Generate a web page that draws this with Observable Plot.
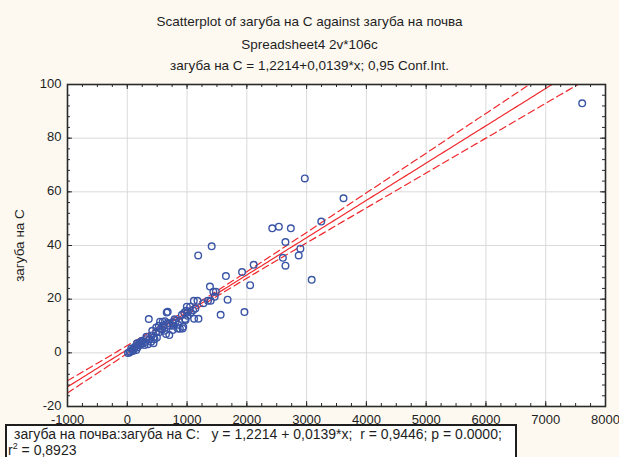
<!DOCTYPE html>
<html>
<head>
<meta charset="utf-8">
<script src="https://cdn.jsdelivr.net/npm/d3@7"></script>
<script src="https://cdn.jsdelivr.net/npm/@observablehq/plot@0.6"></script>
<style>
  html, body { margin: 0; padding: 0; background: #fdf9f1; }
  #wrap { position: relative; width: 619px; height: 457px; overflow: hidden; font-family: "Liberation Sans", Arial, sans-serif; color: #1e1e1e; }
  .t { position: absolute; left: 0; width: 619px; text-align: center; font-size: 13.5px; line-height: 16px; }
  #box { position: absolute; left: 5px; top: 424px; width: 508px; height: 40px; background: #fff; border: 2px solid #1e1e1e; font-size: 14px; line-height: 16px; }
  #box .l1 { margin-left: 7px; white-space: pre; }
  #box .l2 { margin-left: 1px; }
  #box sup { font-size: 9px; line-height: 0; }
  #chart { position: absolute; left: 0; top: 0; }
</style>
</head>
<body>
<div id="wrap">
  <div id="chart"></div>
  <div class="t" style="top:14px">Scatterplot of загуба на С against загуба на почва</div>
  <div class="t" style="top:37px">Spreadsheet4 2v*106c</div>
  <div class="t" style="top:58px">загуба на С = 1,2214+0,0139*x; 0,95 Conf.Int.</div>
  <div id="box"><div class="l1">загуба на почва:загуба на С:   y = 1,2214 + 0,0139*x;  r = 0,9446; p = 0.0000;</div><div class="l2">r<sup>2</sup> = 0,8923</div></div>
</div>
<script>
// Observed points: загуба на почва (x) and загуба на С (y)
const xVals = [7610, 2970, 3617, 3245, 2425, 2536, 2736, 2646, 2896, 2868, 2603, 2646, 3085, 2115, 1920, 2055,
  1412, 1186, 1650, 1383, 1440, 1482, 1462, 1678, 1562, 1960, 1274, 1350, 1395, 1113, 1175, 1051, 996, 985, 1013, 1101,
  952, 914, 1118, 1191, 975, 676, 703, 758, 814, 880, 935, 659, 360, 548, 593, 631, 676, 714, 769, 842, 925, 868, 968,
  1008, 1063, 581, 620, 537, 482, 648, 703, 439, 372, 316, 249, 205, 162, 216, 289, 345, 399, 439, 66, 122, 95, 38, 12,
  150, 456, 496, 529, 484, 418, 80, 110, 140, 180, 260, 300, 230, 50, 170, 320, 560, 600, 790, 850, 1140, 760, 410];
const yVals = [93, 65, 57.6, 48.9, 46.4, 47, 46.4, 41.3, 38.8, 36.3, 35.4, 32.5, 27.2, 32.8, 30.1, 25.2,
  39.7, 36.3, 28.6, 24.7, 22.8, 22.8, 20.9, 19.8, 14.2, 15.2, 18.5, 19.4, 19.4, 19.4, 19.4, 17.2, 17.2, 15.7, 15.3, 15.9,
  14.9, 14.2, 12.7, 12.7, 12.2, 15.3, 10.9, 11.3, 11.9, 9, 9.7, 15, 12.6, 11.6, 11.6, 11.8, 11.1, 10.1, 10.1, 9.1, 9.1, 11.6, 12.6,
  13.8, 15, 8.6, 8.2, 7.8, 7.6, 7, 6.6, 5.7, 5.1, 5.1, 4.5, 3.8, 3.6, 2.9, 2.9, 3.2, 4.1, 3.6, 1.6, 2, 0.7, 0.1, -0.1,
  1.1, 5.1, 5.7, 10.1, 9.4, 8.2, 1, 1.5, 2.5, 3, 3.5, 4, 4.2, 0.5, 2, 6, 9, 10, 12.5, 10.5, 16.5, 8.5, 6.5];

// Regression (from the chart's caption) and confidence-band statistics
const intercept = 1.2214, slope = 0.0139, rSquared = 0.8923;
const nObs = 106, tCrit = 1.983, residSD = 5.0, meanX = 1200;

// Axis ticks
const xTicks = [-1000, 0, 1000, 2000, 3000, 4000, 5000, 6000, 7000, 8000];
const yTicks = [-20, 0, 20, 40, 60, 80, 100];
const xGrid = [0, 1000, 2000, 3000, 4000, 5000, 6000, 7000];
const yGrid = [0, 20, 40, 60, 80];
const xMinor = d3.range(-1000, 8001, 250);
const yMinor = d3.range(-20, 101, 4);

const points = xVals.map((x, i) => ({x, y: yVals[i]}));
const Sxx = rSquared / (1 - rSquared) * (nObs - 2) * residSD * residSD / (slope * slope);
const fitX = d3.range(-1000, 8001, 50);
const fit = fitX.map(x => {
  const yhat = intercept + slope * x;
  const hw = tCrit * residSD * Math.sqrt(1 / nObs + (x - meanX) ** 2 / Sxx);
  return {x, yhat, lo: yhat - hw, hi: yhat + hw};
});

const W = 619, H = 457, mL = 67, mR = 14, mT = 84, mB = 51;
const ph = H - mT - mB, pw = W - mL - mR;
const red = "#f0282d";
const blue = "#3b55a6";
const ink = "#2a2a2a";

const chart = Plot.plot({
  width: W, height: H,
  marginLeft: mL, marginRight: mR, marginTop: mT, marginBottom: mB,
  style: {background: "transparent", fontFamily: "'Liberation Sans', Arial, sans-serif", fontSize: "13px", color: "#1e1e1e"},
  x: {domain: [-1000, 8000]},
  y: {domain: [-20, 100]},
  marks: [
    Plot.frame({fill: "white", stroke: null}),
    Plot.ruleX(xGrid, {x: d => d, stroke: "#dadada", strokeWidth: 1}),
    Plot.ruleY(yGrid, {y: d => d, stroke: "#dadada", strokeWidth: 1}),
    Plot.axisX(xTicks, {tickSize: 0, tickPadding: 8, tickFormat: d => String(d), label: null, fontSize: 13}),
    Plot.axisY(yTicks, {tickSize: 0, tickPadding: 6, tickFormat: d => String(d), label: null, fontSize: 13, dy: -1}),
    Plot.text(["загуба на С"], {frameAnchor: "left", textAnchor: "middle", text: d => d, rotate: -90, dx: -48, fontSize: 13.5}),
    Plot.line(fit, {x: "x", y: "hi", stroke: red, strokeWidth: 1.2, strokeDasharray: "7,4", clip: true}),
    Plot.line(fit, {x: "x", y: "lo", stroke: red, strokeWidth: 1.2, strokeDasharray: "7,4", clip: true}),
    Plot.line(fit, {x: "x", y: "yhat", stroke: red, strokeWidth: 1.2, clip: true}),
    Plot.dot(points, {x: "x", y: "y", r: 3.3, stroke: blue, strokeWidth: 1.4, fill: "none"}),
    // inward ticks on all four sides
    Plot.tickX(xMinor, {x: d => d, stroke: ink, insetTop: ph - 3}),
    Plot.tickX(xMinor, {x: d => d, stroke: ink, insetBottom: ph - 3}),
    Plot.tickX(xTicks, {x: d => d, stroke: ink, insetTop: ph - 5}),
    Plot.tickX(xTicks, {x: d => d, stroke: ink, insetBottom: ph - 5}),
    Plot.tickY(yMinor, {y: d => d, stroke: ink, insetRight: pw - 3}),
    Plot.tickY(yMinor, {y: d => d, stroke: ink, insetLeft: pw - 3}),
    Plot.tickY(yTicks, {y: d => d, stroke: ink, insetRight: pw - 5}),
    Plot.tickY(yTicks, {y: d => d, stroke: ink, insetLeft: pw - 5}),
    Plot.frame({stroke: ink, strokeWidth: 1.6})
  ]
});
document.getElementById("chart").appendChild(chart);
</script>
</body>
</html>
